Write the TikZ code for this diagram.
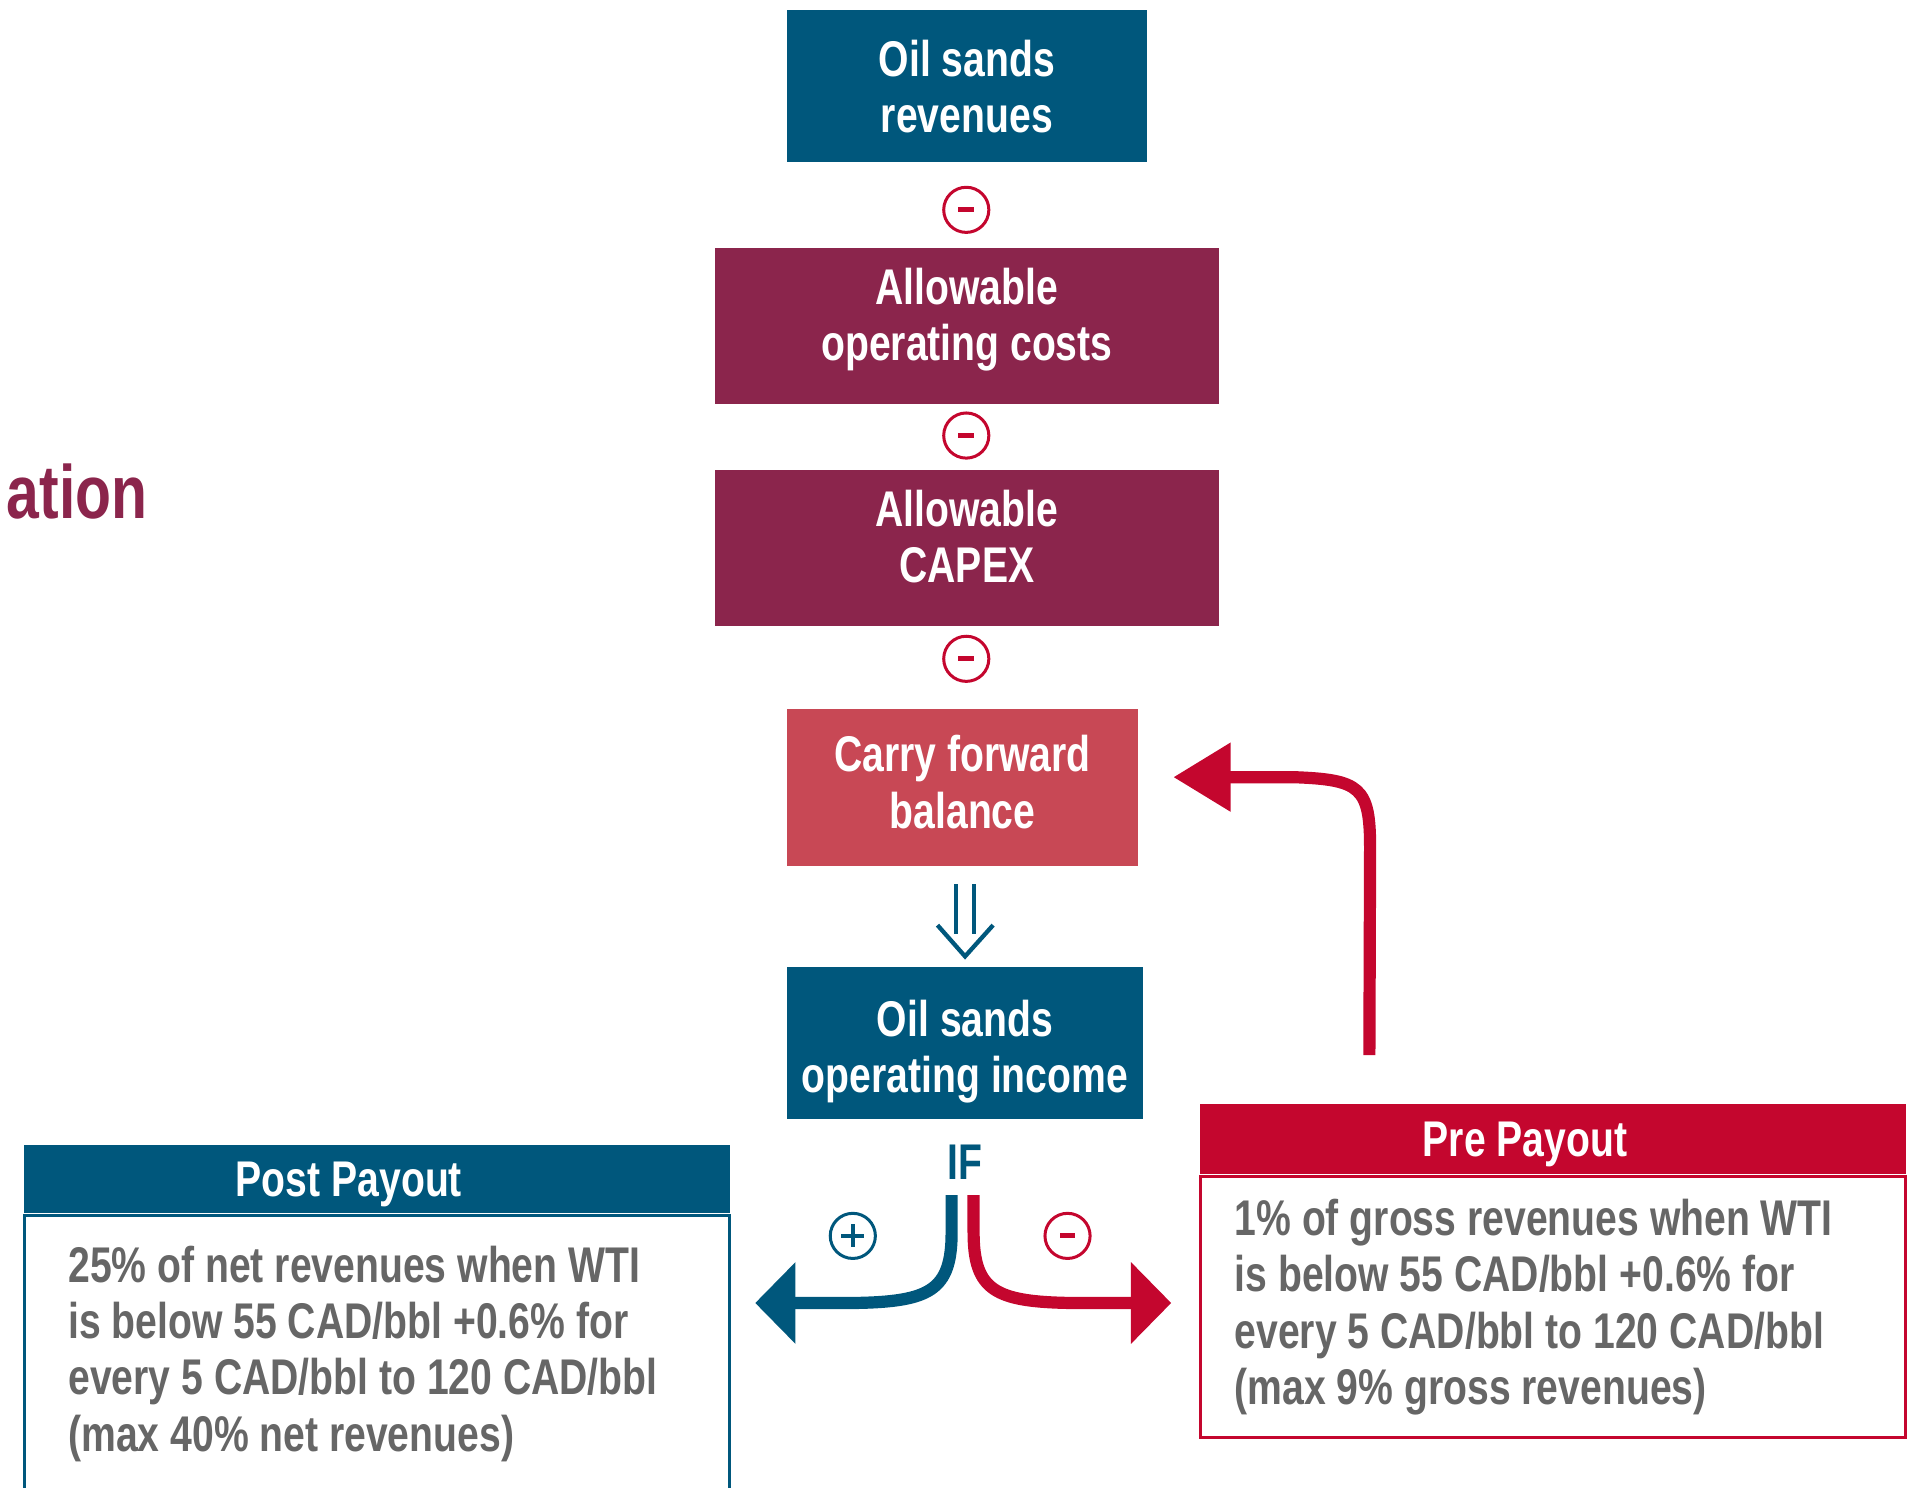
\documentclass[tikz,border=0pt]{standalone}
\usepackage{fontspec}
\setmainfont{Liberation Sans}[FakeStretch=0.78]
\usetikzlibrary{arrows.meta,calc}
\definecolor{osblue}{RGB}{0,87,124}
\definecolor{osmaroon}{RGB}{139,37,76}
\definecolor{oscoral}{RGB}{200,72,85}
\definecolor{osred}{RGB}{196,6,46}
\definecolor{osgray}{RGB}{102,102,102}
\newcommand{\boxfont}{\fontsize{11.7}{13.1}\selectfont\bfseries}
\tikzset{
  flowbox/.style={fill=#1, text=white, font=\boxfont, align=center, inner sep=0pt, text depth=3pt},
  sign/.style={circle, draw=#1, line width=0.7pt, fill=white, minimum size=0.37cm, inner sep=0pt},
  minussign/.style={sign=osred, path picture={\fill[osred] ($(path picture bounding box.center)+(-0.065,-0.02)$) rectangle ++(0.13,0.04);}},
  plussign/.style={sign=osblue, path picture={\fill[osblue] ($(path picture bounding box.center)+(-0.095,-0.017)$) rectangle ++(0.19,0.034);
      \fill[osblue] ($(path picture bounding box.center)+(-0.017,-0.095)$) rectangle ++(0.034,0.19);}},
  payhead/.style={fill=#1, text=white, font=\boxfont, minimum width=5.79cm, inner sep=0pt, text depth=0pt},
  paybody/.style={draw=#1, line width=0.6pt, fill=white, text=osgray, font=\boxfont, align=flush left, inner ysep=0pt, anchor=north},
}
\begin{document}
\begin{tikzpicture}
        \clip (0,0) rectangle (15.68,-12.19);
        %
        \node[anchor=base west, inner sep=0pt, text=osmaroon, font=\fontsize{17.6}{20}\selectfont\bfseries] (ttl) at (0.05,-4.25) {ation};
        %
        \node[flowbox=osblue, minimum width=2.95cm, minimum height=1.25cm, text height=24.8pt] (osrev) at (7.925,-0.705) {Oil sands\\revenues};
        \node[minussign] (m1) at (7.92,-1.72) {};
        \node[flowbox=osmaroon, minimum width=4.13cm, minimum height=1.28cm, text height=19.4pt] (opcost) at (7.925,-2.67) {Allowable\\operating costs};
        \node[minussign] (m2) at (7.92,-3.57) {};
        \node[flowbox=osmaroon, minimum width=4.13cm, minimum height=1.28cm, text height=19.4pt] (capex) at (7.925,-4.49) {Allowable\\CAPEX};
        \node[minussign] (m3) at (7.92,-5.40) {};
        \node[flowbox=oscoral, minimum width=2.88cm, minimum height=1.29cm, text height=21.9pt] (cfb) at (7.89,-6.455) {Carry forward\\balance};
        \node[flowbox=osblue, minimum width=2.92cm, minimum height=1.24cm, text height=26.2pt] (osinc) at (7.91,-8.55) {Oil sands\\operating income};
        \node[font=\boxfont, text=osblue] (iflbl) at (7.91,-9.53) {IF};
        %
        % double arrow cfb => osinc
        \draw[osblue, line width=1pt] ($(osinc.north)+(-0.073,0.674)$) -- ($(osinc.north)+(-0.073,0.27)$);
        \draw[osblue, line width=1pt] ($(osinc.north)+(0.073,0.674)$) -- ($(osinc.north)+(0.073,0.27)$);
        \draw[osblue, line width=1pt] ($(osinc.north)+(-0.226,0.34)$) -- ($(osinc.north)+(0,0.084)$) -- ($(osinc.north)+(0.23,0.34)$);
        %
        \node[payhead=osblue, minimum height=0.56cm] (posthd) at (3.09,-9.664) {\hspace*{-0.46cm}Post Payout};
        \node[paybody=osblue, minimum height=2.27cm, inner xsep=0.36cm, text width=5.06cm] (postbd) at (posthd.south) {25\% of net revenues when WTI\\is below 55 CAD/bbl +0.6\% for\\every 5 CAD/bbl to 120 CAD/bbl\\(max 40\% net revenues)};
        \node[payhead=osred, minimum height=0.58cm] (prehd) at (12.73,-9.336) {\hspace*{-0.46cm}Pre Payout};
        \node[paybody=osred, minimum height=2.14cm, inner xsep=0.28cm, text width=5.22cm] (prebd) at (prehd.south) {1\% of gross revenues when WTI\\is below 55 CAD/bbl +0.6\% for\\every 5 CAD/bbl to 120 CAD/bbl\\(max 9\% gross revenues)};
        %
        \node[plussign] (pl) at (6.99,-10.13) {};
        \node[minussign] (mi) at (8.75,-10.13) {};
        %
        \coordinate (posttip) at (6.19,-10.68);
        \coordinate (pretip) at (9.60,-10.68);
        \coordinate (fbstart) at ($(prehd.north west)+(1.396,0.39)$);
        \coordinate (cfbtip) at ($(cfb.east)+(0.28,0.085)$);
        %
        \draw[osblue, line width=0.1cm, -{Triangle[length=0.33cm,width=0.65cm]}] ($(iflbl.south)+(-0.11,0)$) -- (7.80,-10.10)
             .. controls (7.80,-10.58) and (7.62,-10.67) .. (7.00,-10.68) -- (posttip);
        \draw[osred, line width=0.1cm, -{Triangle[length=0.33cm,width=0.65cm]}] ($(iflbl.south)+(0.07,0)$) -- (7.98,-10.10)
             .. controls (7.98,-10.58) and (8.16,-10.67) .. (8.78,-10.68) -- (pretip);
        %
        \draw[osred, line width=0.1cm, -{Triangle[length=0.47cm,width=0.54cm]}] (fbstart) -- (11.23,-6.95)
             .. controls (11.23,-6.45) and (11.15,-6.39) .. (10.60,-6.37) -- (cfbtip);
\end{tikzpicture}
\end{document}
